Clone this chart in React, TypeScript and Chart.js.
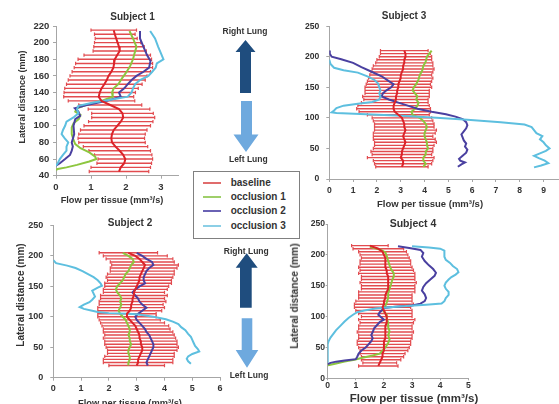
import React, { useEffect, useRef } from "react";
import { Chart, registerables } from "chart.js";

Chart.register(...registerables);

const FONT = '"Liberation Sans", Arial, sans-serif';
const RED = "#dc2329";
const BAR_RED = "#e24b4f";
const GREEN = "#8dc63f";
const PURPLE = "#4a40a0";
const CYAN = "#5dbfdf";
const AXIS = "#a6a6a6";
const TEXT = "#333333";

const seriesNames = ["baseline", "occlusion 1", "occlusion 2", "occlusion 3"];

// ---------- Subject 1 ----------
const s1Y = [215, 210, 205, 200, 195, 190, 185, 180, 175, 170, 165, 160, 155, 150, 145, 140, 135, 130, 125, 120, 115, 110, 105, 100, 95, 90, 85, 80, 75, 70, 65, 60, 55, 50, 45];
const s1BaseMean = [1.65, 1.68, 1.72, 1.76, 1.8, 1.82, 1.75, 1.68, 1.66, 1.64, 1.58, 1.5, 1.45, 1.38, 1.3, 1.25, 1.22, 1.3, 1.55, 1.8, 1.9, 1.92, 1.85, 1.75, 1.65, 1.6, 1.58, 1.6, 1.7, 1.82, 1.92, 1.98, 1.95, 1.85, 1.8];
const s1BaseSD = [0.65, 0.58, 0.6, 0.66, 0.72, 0.76, 0.95, 1.05, 1.1, 1.12, 1.12, 1.1, 1.1, 1.08, 1.05, 1.02, 1.0, 0.95, 0.9, 0.88, 0.88, 0.9, 0.92, 0.95, 0.95, 0.95, 0.95, 0.95, 0.92, 0.88, 0.82, 0.78, 0.78, 0.85, 0.85];
const s1Occ1Y = [214, 205, 195, 188, 180, 172, 165, 158, 150, 145, 140, 135, 130, 125, 121, 117, 113, 108, 103, 98, 90, 83, 78, 73, 68, 63, 60, 57, 53, 50, 48, 47];
const s1Occ1X = [2.1, 2.2, 2.3, 2.25, 2.2, 2.12, 2.02, 1.9, 1.78, 1.65, 1.6, 1.62, 1.3, 0.85, 0.6, 0.55, 0.7, 0.65, 0.5, 0.45, 0.45, 0.5, 0.55, 0.7, 0.95, 1.12, 1.15, 0.95, 0.6, 0.3, 0.05, 0];
const s1Occ2Y = [214, 205, 195, 185, 178, 170, 165, 160, 155, 150, 145, 140, 135, 130, 125, 121, 117, 112, 108, 100, 90, 80, 75, 70, 65, 60, 55, 52];
const s1Occ2X = [2.4, 2.4, 2.5, 2.6, 2.7, 2.66, 2.5, 2.3, 2.16, 2.05, 1.95, 1.8, 1.85, 1.45, 0.88, 0.54, 0.64, 0.69, 0.55, 0.5, 0.52, 0.45, 0.48, 0.45, 0.4, 0.26, 0.11, 0];
const s1Occ3Y = [214, 205, 195, 185, 180, 175, 170, 165, 160, 155, 150, 145, 140, 135, 132, 128, 124, 120, 115, 110, 105, 100, 95, 90, 85, 80, 75, 70, 65, 60, 55, 52];
const s1Occ3X = [2.69, 2.83, 2.92, 3.02, 3.07, 2.88, 2.85, 2.75, 2.64, 2.4, 2.26, 2.2, 2.16, 2.05, 1.64, 1.07, 0.64, 0.6, 0.64, 0.5, 0.3, 0.26, 0.2, 0.16, 0.25, 0.35, 0.3, 0.3, 0.2, 0.11, 0.05, 0];

// ---------- Subject 2 ----------
const s2Y = [205, 200, 195, 190, 185, 180, 175, 170, 165, 160, 155, 150, 145, 140, 135, 130, 125, 120, 115, 110, 105, 100, 95, 90, 85, 80, 75, 70, 65, 60, 55, 50, 45, 40, 35, 30, 25, 20];
const s2BaseMean = [2.7, 2.95, 3.1, 3.2, 3.3, 3.25, 3.2, 3.15, 3.1, 3.1, 3.05, 3.0, 2.95, 2.9, 2.9, 2.85, 2.85, 2.8, 2.8, 2.75, 2.65, 2.65, 2.75, 2.85, 2.95, 3.0, 3.05, 3.1, 3.1, 3.15, 3.15, 3.2, 3.2, 3.15, 3.1, 3.05, 3.05, 3.0];
const s2BaseSD = [1.05, 1.15, 1.2, 1.15, 1.2, 1.2, 1.15, 1.2, 1.2, 1.15, 1.2, 1.15, 1.15, 1.1, 1.2, 1.15, 1.2, 1.15, 1.2, 1.15, 1.05, 1.05, 1.1, 1.15, 1.2, 1.2, 1.25, 1.25, 1.3, 1.3, 1.3, 1.3, 1.25, 1.2, 1.25, 1.25, 1.25, 1.0];
const s2Occ1X = [2.5, 2.7, 2.85, 2.9, 2.8, 2.75, 2.7, 2.6, 2.55, 2.5, 2.4, 2.3, 2.25, 2.3, 2.4, 2.45, 2.4, 2.45, 2.4, 2.35, 2.4, 2.5, 2.6, 2.65, 2.7, 2.75, 2.75, 2.7, 2.75, 2.75, 2.8, 2.75, 2.7, 2.7, 2.75, 2.75, 2.7, 2.7];
const s2Occ2X = [3.0, 3.2, 3.35, 3.55, 3.6, 3.45, 3.35, 3.3, 3.25, 3.25, 3.3, 3.1, 2.95, 2.85, 2.95, 3.05, 3.1, 3.2, 3.35, 3.2, 3.05, 2.95, 3.0, 3.1, 3.2, 3.3, 3.35, 3.45, 3.5, 3.55, 3.6, 3.6, 3.55, 3.5, 3.45, 3.4, 3.35, 3.4];
const s2Occ3Y = [193, 188, 184, 180, 175, 170, 165, 160, 155, 151, 148, 143, 138, 133, 128, 124, 120, 116, 113, 110, 108, 106, 105, 104, 100, 96, 92, 88, 83, 78, 72, 67, 62, 57, 52, 47, 43, 39, 35, 31, 27, 23];
const s2Occ3X = [0, 0.1, 0.5, 0.8, 1.05, 1.25, 1.45, 1.6, 1.7, 1.75, 1.6, 1.4, 1.45, 1.5, 1.4, 1.3, 1.1, 0.95, 1.1, 1.4, 1.6, 2.0, 2.7, 3.0, 3.6, 4.05, 4.3, 4.5, 4.6, 4.75, 4.85, 4.95, 5.0, 5.05, 5.1, 5.2, 5.25, 5.0, 4.85, 4.8, 4.85, 4.95];

// ---------- Subject 3 ----------
const s3Y = [210, 205, 200, 195, 190, 185, 180, 175, 170, 165, 160, 155, 150, 145, 140, 135, 130, 125, 120, 115, 110, 105, 100, 95, 90, 85, 80, 75, 70, 65, 60, 55, 50, 45, 40, 35, 30, 25, 20];
const s3BaseMean = [3.15, 3.2, 3.2, 3.15, 3.15, 3.1, 3.1, 3.05, 3.0, 3.0, 2.95, 2.9, 2.9, 2.85, 2.85, 2.8, 2.8, 2.75, 2.7, 2.7, 2.75, 2.9, 3.05, 3.1, 3.15, 3.15, 3.2, 3.15, 3.1, 3.15, 3.2, 3.15, 3.1, 3.05, 3.05, 3.0, 3.1, 3.1, 3.05];
const s3BaseSD = [1.0, 1.05, 1.1, 1.15, 1.2, 1.25, 1.3, 1.3, 1.3, 1.35, 1.35, 1.35, 1.4, 1.35, 1.35, 1.4, 1.35, 1.4, 1.5, 1.55, 1.5, 1.3, 1.25, 1.25, 1.25, 1.25, 1.3, 1.3, 1.25, 1.3, 1.3, 1.25, 1.25, 1.3, 1.25, 1.4, 1.25, 1.2, 1.1];
const s3Occ1Y = [210, 205, 200, 192, 185, 177, 170, 163, 155, 150, 145, 140, 135, 130, 125, 120, 115, 110, 105, 100, 95, 90, 85, 80, 75, 70, 65, 60, 55, 50, 45, 40, 35, 30, 25, 20];
const s3Occ1X = [4.3, 4.2, 4.1, 4.05, 3.95, 3.9, 3.8, 3.75, 3.65, 3.55, 3.5, 3.6, 3.7, 3.65, 3.75, 3.7, 3.6, 3.45, 3.5, 3.8, 3.95, 4.05, 4.1, 4.05, 4.0, 4.0, 4.05, 4.1, 4.1, 4.15, 4.05, 4.05, 3.95, 3.95, 4.05, 3.95];
const s3Occ2Y = [210, 205, 200, 196, 190, 183, 175, 168, 160, 155, 150, 145, 140, 135, 130, 125, 120, 115, 110, 106, 102, 98, 93, 88, 83, 78, 73, 68, 63, 58, 53, 48, 43, 38, 33, 30, 27, 24, 20];
const s3Occ2X = [0, 0.02, 0.1, 0.5, 1.0, 1.35, 1.8, 2.2, 2.5, 2.7, 2.6, 2.4, 2.25, 2.2, 2.5, 2.9, 3.3, 3.7, 4.3, 4.9, 5.3, 5.6, 5.75, 5.8, 5.75, 5.65, 5.55, 5.6, 5.65, 5.75, 5.7, 5.8, 5.75, 5.6, 5.45, 5.5, 5.7, 5.55, 5.4];
const s3Occ3Y = [195, 188, 182, 178, 174, 168, 162, 156, 150, 145, 140, 135, 130, 126, 123, 120, 116, 112, 109, 108, 104, 100, 97, 93, 89, 85, 80, 75, 70, 65, 60, 55, 50, 46, 42, 38, 34, 30, 26, 22, 19];
const s3Occ3X = [0, 0.05, 0.2, 0.6, 1.2, 1.6, 1.9, 2.05, 2.1, 2.15, 2.1, 2.15, 2.1, 1.8, 1.2, 0.6, 0.3, 0.2, 0.1, 0.3, 2.8, 4.5, 5.8, 7.2, 8.2, 8.5, 8.6, 8.7, 8.95, 8.85, 9.0, 9.1, 9.25, 9.1, 8.85, 8.6, 8.8, 9.05, 9.2, 8.9, 8.6];

// ---------- Subject 4 ----------
const s4Y = [215, 210, 205, 200, 195, 190, 185, 180, 175, 170, 165, 160, 155, 150, 145, 140, 135, 130, 125, 120, 115, 110, 105, 100, 95, 90, 85, 80, 75, 70, 65, 60, 55, 50, 45, 40, 35, 30, 25, 20];
const s4BaseMean = [1.5, 1.8, 1.95, 2.0, 2.05, 2.05, 2.05, 2.05, 2.1, 2.1, 2.15, 2.15, 2.15, 2.15, 2.15, 2.1, 2.05, 2.05, 2.0, 2.0, 1.95, 2.0, 2.05, 2.1, 2.1, 2.1, 2.05, 2.05, 2.05, 2.05, 2.05, 2.0, 2.0, 2.0, 2.0, 1.95, 1.95, 1.9, 1.85, 1.8];
const s4BaseSD = [0.65, 0.9, 0.85, 0.85, 0.85, 0.9, 0.9, 0.95, 0.95, 1.0, 0.95, 0.95, 1.0, 0.95, 0.95, 1.0, 0.95, 0.95, 1.0, 1.05, 1.0, 1.0, 0.95, 0.9, 1.0, 0.95, 0.95, 0.95, 1.0, 0.95, 0.95, 0.95, 0.95, 0.9, 0.85, 0.8, 0.75, 0.7, 0.6, 0.7];
const s4Occ1Y = [213, 208, 204, 198, 190, 183, 177, 170, 165, 160, 152, 145, 138, 130, 123, 117, 112, 108, 103, 97, 90, 83, 76, 70, 63, 57, 50, 45, 40, 37, 35, 33, 30, 27, 24, 22, 21];
const s4Occ1X = [1.5, 1.9, 2.05, 2.1, 2.15, 2.2, 2.25, 2.35, 2.35, 2.3, 2.25, 2.2, 2.15, 2.15, 2.1, 2.05, 1.95, 2.0, 2.1, 2.1, 2.15, 2.15, 2.2, 2.15, 2.2, 2.15, 2.05, 1.95, 1.85, 1.6, 1.4, 1.2, 0.95, 0.6, 0.3, 0.1, 0];
const s4Occ2Y = [214, 211, 208, 203, 197, 190, 183, 177, 171, 166, 160, 154, 148, 142, 136, 130, 125, 121, 118, 116, 114, 111, 107, 103, 99, 95, 91, 86, 81, 75, 70, 65, 60, 55, 50, 45, 40, 35, 31, 29, 27, 25, 23];
const s4Occ2X = [2.5, 2.9, 3.3, 3.4, 3.35, 3.45, 3.6, 3.75, 3.85, 3.8, 3.65, 3.5, 3.4, 3.35, 3.45, 3.5, 3.45, 3.3, 3.0, 2.4, 2.0, 1.95, 1.85, 1.8, 1.9, 2.0, 1.85, 1.75, 1.65, 1.6, 1.55, 1.6, 1.55, 1.45, 1.35, 1.2, 1.1, 1.05, 1.0, 0.6, 0.3, 0.1, 0];
const s4Occ3Y = [214, 212, 210, 207, 202, 197, 192, 187, 182, 177, 172, 168, 164, 160, 155, 150, 145, 140, 135, 130, 125, 121, 119, 117, 115, 113, 110, 107, 103, 98, 92, 85, 78, 72, 66, 60, 55, 25];
const s4Occ3X = [3.0, 3.6, 4.0, 4.15, 4.15, 4.15, 4.2, 4.35, 4.45, 4.6, 4.65, 4.55, 4.4, 4.3, 4.2, 4.15, 4.2, 4.3, 4.3, 4.2, 4.15, 4.05, 3.5, 2.8, 2.2, 1.7, 1.3, 1.05, 0.9, 0.75, 0.6, 0.45, 0.3, 0.2, 0.1, 0.03, 0, 0];

type Line = { x: number[]; y: number[]; color: string; label: string };

interface PanelSpec {
  id: string;
  left: number; top: number; width: number; height: number;
  padTop: number; padRight: number; yW: number; xH: number;
  xMax: number; yMin: number; yMax: number; yStep: number;
  font: number; xTick: number[]; yTick: number[];
  y: number[]; mean: number[]; sd: number[]; lines: Line[];
}

const panels: PanelSpec[] = [
  {
    id: "s1", left: 0, top: 16, width: 189, height: 179, padTop: 10, padRight: 10.5, yW: 56, xH: 19.3,
    xMax: 3.5, yMin: 40, yMax: 220, yStep: 20, font: 9.5, xTick: [3, 2.6], yTick: [3, 3.7],
    y: s1Y, mean: s1BaseMean, sd: s1BaseSD,
    lines: [
      { x: s1Occ1X, y: s1Occ1Y, color: GREEN, label: seriesNames[1] },
      { x: s1Occ2X, y: s1Occ2Y, color: PURPLE, label: seriesNames[2] },
      { x: s1Occ3X, y: s1Occ3Y, color: CYAN, label: seriesNames[3] },
    ],
  },
  {
    id: "s3", left: 300, top: 14, width: 272, height: 186, padTop: 10.3, padRight: 10.6, yW: 29.3, xH: 21,
    xMax: 9.75, yMin: 0, yMax: 250, yStep: 50, font: 8.6, xTick: [3, 3.3], yTick: [3, 7],
    y: s3Y, mean: s3BaseMean, sd: s3BaseSD,
    lines: [
      { x: s3Occ1X, y: s3Occ1Y, color: GREEN, label: seriesNames[1] },
      { x: s3Occ2X, y: s3Occ2Y, color: PURPLE, label: seriesNames[2] },
      { x: s3Occ3X, y: s3Occ3Y, color: CYAN, label: seriesNames[3] },
    ],
  },
  {
    id: "s2", left: 0, top: 213, width: 230, height: 187, padTop: 10.7, padRight: 9.9, yW: 53.3, xH: 22.3,
    xMax: 6, yMin: 0, yMax: 250, yStep: 50, font: 9, xTick: [3, 2.2], yTick: [3, 7],
    y: s2Y, mean: s2BaseMean, sd: s2BaseSD,
    lines: [
      { x: s2Occ1X, y: s2Y, color: GREEN, label: seriesNames[1] },
      { x: s2Occ2X, y: s2Y, color: PURPLE, label: seriesNames[2] },
      { x: s2Occ3X, y: s2Occ3Y, color: CYAN, label: seriesNames[3] },
    ],
  },
  {
    id: "s4", left: 300, top: 214, width: 179, height: 181, padTop: 10, padRight: 10.7, yW: 27.7, xH: 16.7,
    xMax: 5, yMin: 0, yMax: 250, yStep: 50, font: 8.6, xTick: [2, 0], yTick: [2, 0.7],
    y: s4Y, mean: s4BaseMean, sd: s4BaseSD,
    lines: [
      { x: s4Occ1X, y: s4Occ1Y, color: GREEN, label: seriesNames[1] },
      { x: s4Occ2X, y: s4Occ2Y, color: PURPLE, label: seriesNames[2] },
      { x: s4Occ3X, y: s4Occ3Y, color: CYAN, label: seriesNames[3] },
    ],
  },
];

function Panel({ s }: { s: PanelSpec }) {
  const ref = useRef<HTMLCanvasElement | null>(null);
  useEffect(() => {
    if (!ref.current) return;
    const bars: any[] = [];
    s.y.forEach((yv, i) => {
      bars.push({ x: s.mean[i] - s.sd[i], y: yv });
      bars.push({ x: s.mean[i] + s.sd[i], y: yv });
      bars.push({ x: null, y: null });
    });
    const lineSets = s.lines.map((l, k) => ({
      label: l.label,
      data: l.x.map((xv, i) => ({ x: xv, y: l.y[i] })),
      showLine: true,
      borderColor: l.color,
      backgroundColor: l.color,
      borderWidth: 2,
      pointRadius: 0,
      tension: 0,
      order: 5 - k,
    }));
    const tickFont = { family: FONT, size: s.font, weight: "bold" as const };
    const chart = new Chart(ref.current, {
      type: "scatter",
      data: {
        datasets: [
          {
            label: seriesNames[0],
            data: s.y.map((yv, i) => ({ x: s.mean[i], y: yv })),
            showLine: true,
            borderColor: RED,
            backgroundColor: RED,
            borderWidth: 2,
            pointRadius: 0,
            order: 1,
          },
          ...lineSets,
          {
            label: "baseline SD",
            data: bars,
            showLine: true,
            spanGaps: false,
            borderColor: BAR_RED,
            backgroundColor: BAR_RED,
            borderWidth: 1.4,
            pointStyle: "line",
            pointRotation: 90,
            pointRadius: 1.7,
            pointBorderColor: BAR_RED,
            pointBorderWidth: 1.2,
            order: 10,
          },
        ] as any,
      },
      options: {
        responsive: true,
        maintainAspectRatio: false,
        animation: false,
        events: [],
        layout: { padding: { top: s.padTop, right: s.padRight, bottom: 0, left: 0 } },
        plugins: { legend: { display: false }, tooltip: { enabled: false }, title: { display: false } },
        scales: {
          x: {
            type: "linear",
            min: 0,
            max: s.xMax,
            afterFit: (sc: any) => { sc.height = s.xH; },
            ticks: { stepSize: 1, includeBounds: false, font: tickFont, color: TEXT, padding: s.xTick[1], maxRotation: 0 },
            grid: { display: true, drawOnChartArea: false, drawTicks: true, tickLength: s.xTick[0], color: AXIS },
            border: { color: AXIS, width: 1 },
          },
          y: {
            type: "linear",
            min: s.yMin,
            max: s.yMax,
            afterFit: (sc: any) => { sc.width = s.yW; },
            ticks: { stepSize: s.yStep, font: tickFont, color: TEXT, padding: s.yTick[1] },
            grid: { display: true, drawOnChartArea: false, drawTicks: true, tickLength: s.yTick[0], color: AXIS },
            border: { color: AXIS, width: 1 },
          },
        },
      } as any,
    });
    return () => chart.destroy();
  }, [s]);
  return (
    <div style={{ position: "absolute", left: s.left, top: s.top, width: s.width, height: s.height }}>
      <canvas ref={ref} />
    </div>
  );
}

function Label({ x, y, size, text, rotate, color }: { x: number; y: number; size: number; text: string; rotate?: boolean; color?: string }) {
  return (
    <div
      style={{
        position: "absolute",
        left: x,
        top: y,
        transform: `translate(-50%, -50%)${rotate ? " rotate(-90deg)" : ""}`,
        fontFamily: FONT,
        fontWeight: 700,
        fontSize: size,
        lineHeight: 1,
        color: color || TEXT,
        whiteSpace: "nowrap",
      }}
    >
      {text}
    </div>
  );
}

const legendColors = ["#e06c6c", "#9fcf6a", "#6a62b4", "#8ccfe6"];
const legendRows = [182.7, 196.9, 211.3, 225.7];

export default function App() {
  const xTitle = "Flow per tissue (mm\u00B3/s)";
  const yTitle = "Lateral distance (mm)";
  return (
    <div style={{ position: "fixed", left: 0, top: 0, width: 559, height: 404, overflow: "hidden", background: "#ffffff" }}>
      {panels.map((p) => (
        <Panel key={p.id} s={p} />
      ))}

      <svg width={559} height={404} style={{ position: "absolute", left: 0, top: 0 }}>
        <polygon points="245.5,40 255.5,52 251,52 251,93 240,93 240,52 235.5,52" fill="#1f4d7e" />
        <polygon points="241,101 252,101 252,134.5 258.5,134.5 246,152 233.5,134.5 241,134.5" fill="#6ea9de" />
        <polygon points="246.7,253.3 257.7,267.7 251.7,267.7 251.7,307.7 240,307.7 240,267.7 235.7,267.7" fill="#1f4d7e" />
        <polygon points="241.7,318.3 252.3,318.3 252.3,350 258.3,350 247,367.7 235.7,350 241.7,350" fill="#6ea9de" />
      </svg>

      <div style={{ position: "absolute", left: 192.7, top: 171, width: 105.6, height: 66.3, border: "1px solid #808080", background: "#fff" }} />
      {seriesNames.map((n, i) => (
        <React.Fragment key={n}>
          <div style={{ position: "absolute", left: 203, top: legendRows[i] - 1, width: 17.7, height: 2, background: legendColors[i] }} />
          <div style={{ position: "absolute", left: 230.7, top: legendRows[i], transform: "translateY(-50%)", fontFamily: FONT, fontWeight: 700, fontSize: 10, lineHeight: 1, color: TEXT, whiteSpace: "nowrap" }}>{n}</div>
        </React.Fragment>
      ))}

      <Label x={132.5} y={17.3} size={10} text="Subject 1" />
      <Label x={404} y={16} size={10} text="Subject 3" />
      <Label x={130} y={223.3} size={10} text="Subject 2" />
      <Label x={413} y={223.3} size={10.5} text="Subject 4" />

      <Label x={22} y={97} size={9} text={yTitle} rotate />
      <Label x={20.7} y={295} size={10} text={yTitle} rotate />
      <Label x={295} y={296} size={10.2} text={yTitle} rotate />

      <Label x={112} y={200.5} size={9.2} text={xTitle} />
      <Label x={430} y={203.5} size={9.5} text={xTitle} />
      <Label x={130} y={403.5} size={9.3} text={xTitle} />
      <Label x={414} y={398.7} size={11.5} text={xTitle} />

      <Label x={245} y={30.7} size={8.5} text="Right Lung" />
      <Label x={248.3} y={159.3} size={8.5} text="Left Lung" />
      <Label x={246.3} y={250.7} size={8.5} text="Right Lung" />
      <Label x={249} y={375} size={8.5} text="Left Lung" />
    </div>
  );
}
